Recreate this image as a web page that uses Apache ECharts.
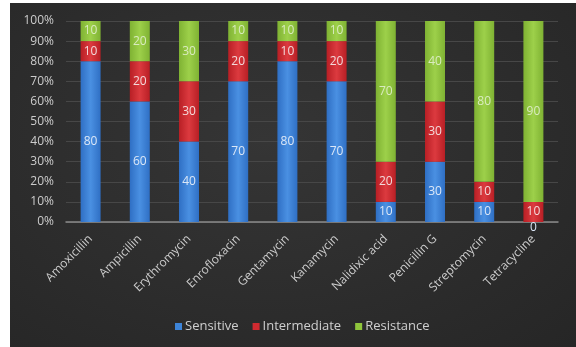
<!DOCTYPE html>
<html><head><meta charset="utf-8">
<script src="https://cdn.jsdelivr.net/npm/echarts@6/dist/echarts.min.js"></script>
<style>
html,body{margin:0;padding:0;background:#fff;width:576px;height:347px;overflow:hidden;}
#c{position:absolute;left:10px;top:3px;width:566px;height:344px;background:radial-gradient(ellipse at 45% 40%, #353535 0%, #2c2c2c 60%, #262626 100%);}
</style></head>
<body><div id="c"></div>
<script>
const categories = ["Amoxicillin","Ampicillin","Erythromycin","Enrofloxacin","Gentamycin","Kanamycin","Nalidixic acid","Penicillin G","Streptomycin","Tetracycline"];
const sensitive = [80,60,40,70,80,70,10,30,10,0];
const intermediate = [10,20,30,20,10,20,20,30,10,10];
const resistance = [10,20,30,10,10,10,70,40,80,90];
const seriesNames = ["Sensitive","Intermediate","Resistance"];
const yTicks = [0,10,20,30,40,50,60,70,80,90,100];

const chart = echarts.init(document.getElementById('c'));
const fontFamily = "'Open Sans', 'Noto Sans', sans-serif";
function grad(c1,c2,c3){
  return new echarts.graphic.LinearGradient(0,0,1,0,[{offset:0,color:c1},{offset:0.5,color:c2},{offset:1,color:c3}]);
}
const colors = [grad('#2f6fc4','#4a90e2','#2f6fc4'), grad('#b81f25','#dc3a3f','#b81f25'), grad('#7fb233','#9dd04a','#7fb233')];
const legendColors = ['#3d84d8','#d02a30','#8fc53c'];
const labelColors = ['#dbe7f7','#f3d9da','#d9ebbf'];
const dataSets = [sensitive, intermediate, resistance];
chart.setOption({
  backgroundColor: 'transparent',
  animation: false,
  color: legendColors,
  grid: {left: 56, right: 18, top: 18, bottom: 125},
  legend: {
    bottom: 9, left: 160,
    itemWidth: 7, itemHeight: 7, itemGap: 14,
    icon: 'rect',
    textStyle: {color: '#cfcfcf', fontSize: 13, fontFamily: fontFamily, padding: [0,0,0,-2]},
    data: seriesNames.map((n,i)=>({name:n, itemStyle:{color:legendColors[i]}}))
  },
  xAxis: {
    type: 'category', data: categories,
    axisLine: {lineStyle: {color: '#8a8a8a', width: 1.5}},
    axisTick: {show: false},
    axisLabel: {rotate: 45, color: '#cccccc', fontSize: 12, fontFamily: fontFamily, margin: 15, interval: 0}
  },
  yAxis: {
    type: 'value', min: 0, max: 100, interval: 10,
    axisLine: {show: false}, axisTick: {show: false},
    axisLabel: {color: '#cccccc', fontSize: 12, fontFamily: fontFamily, formatter: v => v + '%', margin: 12},
    splitLine: {lineStyle: {color: '#474747', width: 1}}
  },
  series: seriesNames.map((n,i)=>({
    name: n, type: 'bar', stack: 'total', barWidth: 20,
    data: dataSets[i].map(v => v === 0 ? {value: v, label: {offset: [0, 6]}} : v),
    itemStyle: {color: colors[i]},
    label: {show: true, position: 'inside', color: labelColors[i], fontSize: 12, fontFamily: fontFamily}
  }))
});
</script></body></html>
